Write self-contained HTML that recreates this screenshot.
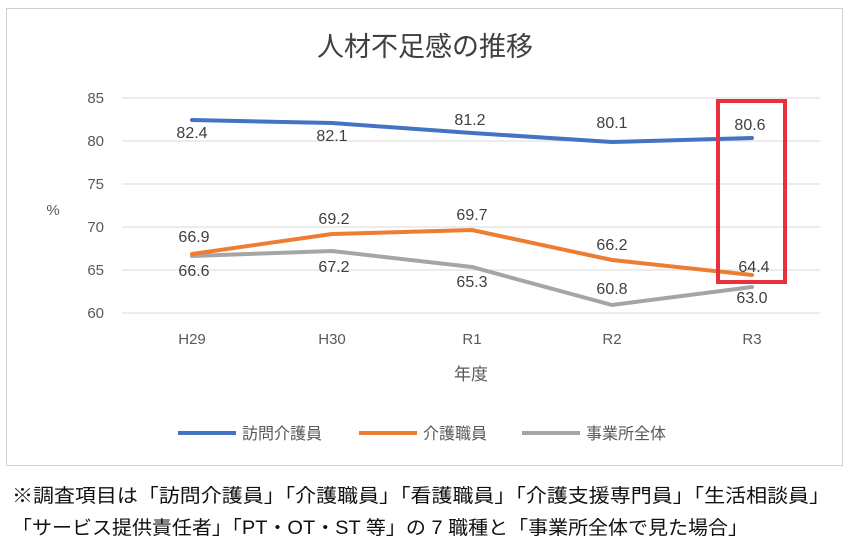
<!DOCTYPE html>
<html><head><meta charset="utf-8"><style>
body{margin:0;width:850px;height:550px;background:#fff;overflow:hidden}
svg text{font-family:"Liberation Sans","Noto Sans CJK JP",sans-serif}
.n{font-size:16px;fill:#404040;text-anchor:middle}
</style></head><body>
<svg width="850" height="550" xmlns="http://www.w3.org/2000/svg">
<rect x="6.5" y="8.5" width="836" height="457" fill="#fff" stroke="#d0d0d0"/>
<text x="425" y="56" font-size="27" fill="#404040" text-anchor="middle">人材不足感の推移</text>
<g stroke="#d9d9d9" stroke-width="1">
<line x1="122" x2="820" y1="98" y2="98"/><line x1="122" x2="820" y1="141" y2="141"/>
<line x1="122" x2="820" y1="184" y2="184"/><line x1="122" x2="820" y1="227" y2="227"/>
<line x1="122" x2="820" y1="270" y2="270"/><line x1="122" x2="820" y1="313" y2="313"/>
</g>
<g font-size="15" fill="#595959" text-anchor="end">
<text x="104" y="103">85</text><text x="104" y="146">80</text><text x="104" y="189">75</text>
<text x="104" y="232">70</text><text x="104" y="275">65</text><text x="104" y="318">60</text>
</g>
<text x="53" y="215" font-size="15" fill="#595959" text-anchor="middle">%</text>
<g font-size="15" fill="#595959" text-anchor="middle">
<text x="192" y="344">H29</text><text x="332" y="344">H30</text><text x="472" y="344">R1</text>
<text x="612" y="344">R2</text><text x="752" y="344">R3</text>
</g>
<text x="471" y="380" font-size="17" fill="#595959" text-anchor="middle">年度</text>
<polyline fill="none" stroke="#a5a5a5" stroke-width="4" stroke-linecap="round" points="192,256 332,251 472,267 612,305 752,287"/>
<polyline fill="none" stroke="#ed7d31" stroke-width="4" stroke-linecap="round" points="192,254 332,234 472,230 612,260 752,275"/>
<polyline fill="none" stroke="#4472c4" stroke-width="4" stroke-linecap="round" points="192,120 332,123 472,133 612,142 752,138"/>
<text class="n" x="192" y="138">82.4</text><text class="n" x="332" y="141">82.1</text>
<text class="n" x="470" y="125">81.2</text><text class="n" x="612" y="128">80.1</text><text class="n" x="750" y="130">80.6</text>
<text class="n" x="194" y="242">66.9</text><text class="n" x="334" y="224">69.2</text>
<text class="n" x="472" y="220">69.7</text><text class="n" x="612" y="250">66.2</text><text class="n" x="754" y="272">64.4</text>
<text class="n" x="194" y="276">66.6</text><text class="n" x="334" y="272">67.2</text>
<text class="n" x="472" y="287">65.3</text><text class="n" x="612" y="294">60.8</text><text class="n" x="752" y="303">63.0</text>
<rect x="718" y="101" width="67" height="181" fill="none" stroke="#e8303f" stroke-width="4"/>
<g font-size="16" fill="#595959">
<line x1="178" x2="236" y1="433" y2="433" stroke="#4472c4" stroke-width="4"/><text x="242" y="439">訪問介護員</text>
<line x1="359" x2="417" y1="433" y2="433" stroke="#ed7d31" stroke-width="4"/><text x="423" y="439">介護職員</text>
<line x1="522" x2="580" y1="433" y2="433" stroke="#a5a5a5" stroke-width="4"/><text x="586" y="439">事業所全体</text>
</g>
<g font-size="19" fill="#111" style="font-family:'Liberation Serif','Noto Serif CJK SC',serif">
<text x="12" y="502" textLength="818" lengthAdjust="spacingAndGlyphs">※調査項目は「訪問介護員」「介護職員」「看護職員」「介護支援専門員」「生活相談員」</text>
<text x="12" y="534" textLength="736" lengthAdjust="spacingAndGlyphs">「サービス提供責任者」「PT・OT・ST 等」の 7 職種と「事業所全体で見た場合」</text>
</g>
</svg>
</body></html>
